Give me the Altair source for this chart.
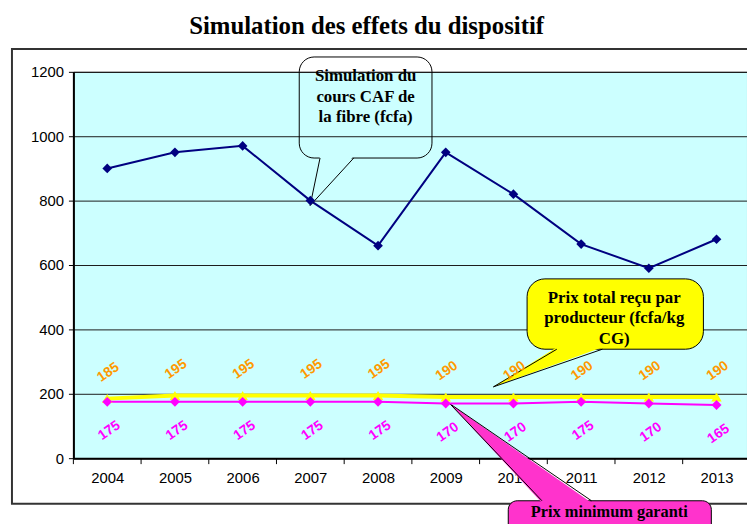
import altair as alt
import pandas as pd

# ---------------- data ----------------
years = [2004, 2005, 2006, 2007, 2008, 2009, 2010, 2011, 2012, 2013]
cours_caf = [900, 950, 970, 800, 660, 950, 820, 665, 590, 680]
prix_total = [185, 195, 195, 195, 195, 190, 190, 190, 190, 190]
prix_minimum = [175, 175, 175, 175, 175, 170, 170, 175, 170, 165]
y_ticks = [0, 200, 400, 600, 800, 1000, 1200]

title_text = "Simulation des effets du dispositif"
caf_label = ["Simulation du", "cours CAF de", "la fibre (fcfa)"]
total_label = ["Prix total reçu par", "producteur (fcfa/kg", "CG)"]
min_label = ["Prix minimum garanti"]

df = pd.DataFrame({"year": years, "caf": cours_caf,
                   "total": prix_total, "minimum": prix_minimum})
bounds_df = pd.DataFrame({"b": [y - 0.5 for y in years]})

# ---------------- layout ----------------
W, H = 680, 390
PAD_L, PAD_T, PAD_B = 66, 62, 64
PAGE = 8
PLOT_LEFT = PAGE + PAD_L          # page x of plot left edge
PLOT_TOP = PAGE + PAD_T           # page y of plot top edge
X0, X1 = 2003.5, 2013.45
PXY = W / (X1 - X0)
YMAX = 1200


def px_x(px):
    return X0 + (px - PLOT_LEFT) / PXY


def px_y(py):
    return (PLOT_TOP + H - py) * YMAX / H


XS = alt.Scale(domain=[X0, X1], nice=False, zero=False)
YS = alt.Scale(domain=[0, YMAX], nice=False, zero=True)
SERIF = "Liberation Serif"
SANS = "Liberation Sans"


def X(f):
    return alt.X(f, type="quantitative", scale=XS, title=None)


def Y(f):
    return alt.Y(f, type="quantitative", scale=YS, title=None)


base = alt.Chart(df)

# first layer carries axes
caf_line = base.mark_line(color="#000080", strokeWidth=2).encode(
    x=alt.X("year:Q", scale=XS, title=None,
            axis=alt.Axis(values=years, format="d", ticks=False,
                          labelFlush=False, labelOverlap=False, labelPadding=13,
                          domainColor="#000000", domainWidth=2, grid=False,
                          labelFont=SANS, labelFontSize=15, labelColor="#000000")),
    y=alt.Y("caf:Q", scale=YS, title=None,
            axis=alt.Axis(values=y_ticks, format="d", tickSize=5, tickColor="#000000",
                          labelPadding=5, domainColor="#000000", domainWidth=2,
                          grid=True, gridColor="#1a1a1a", gridWidth=1,
                          labelFont=SANS, labelFontSize=15, labelColor="#000000")),
)

# category-boundary tick marks below the x axis
x_ticks = alt.Chart(bounds_df).mark_rule(color="#000000", strokeWidth=1).encode(
    x=X("b"), y=alt.value(H), y2=alt.value(H + 6))

# title as text
title_df = pd.DataFrame({"t": [title_text], "x": [px_x(370)], "y": [px_y(32)]})
title = alt.Chart(title_df).mark_text(font=SERIF, fontSize=25, fontWeight="bold",
                                      color="#000000", align="center",
                                      baseline="alphabetic").encode(
    x=X("x"), y=Y("y"), text="t:N")

# outer frame
frame_df = pd.DataFrame({"x": [px_x(12)], "x2": [px_x(900)],
                         "y": [px_y(47)], "y2": [px_y(506)]})
frame = alt.Chart(frame_df).mark_rect(fillOpacity=0, stroke="#333333", strokeWidth=2).encode(
    x=X("x"), x2="x2", y=Y("y"), y2="y2")


def bubble(rect, base_pts, tip, fill, radius, lines, line_y, cx, fsize=17):
    x_a, x_b, y_t, y_b = rect
    r_df = pd.DataFrame({"x": [px_x(x_a)], "x2": [px_x(x_b)],
                         "y": [px_y(y_t)], "y2": [px_y(y_b)]})
    rect_kw = dict(cornerRadius=radius, stroke="#000000", strokeWidth=1)
    if fill is None:
        rect_kw["fillOpacity"] = 0
        fill_c = "#CCFFFF"
    else:
        rect_kw["fill"] = fill
        fill_c = fill
    r = alt.Chart(r_df).mark_rect(**rect_kw).encode(x=X("x"), x2="x2", y=Y("y"), y2="y2")
    (bx1, by), (bx2, _) = base_pts
    tx, ty = tip
    inward = -2 if by < ty else 2
    a_df = pd.DataFrame({"y": [px_y(by + inward), px_y(ty)],
                         "x": [px_x(bx1), px_x(tx)],
                         "x2": [px_x(bx2), px_x(tx)]})
    area = alt.Chart(a_df).mark_area(orient="horizontal", color=fill_c, opacity=1).encode(
        y=Y("y"), x=alt.X("x:Q", scale=XS, title=None, stack=None), x2="x2")
    o_df = pd.DataFrame({"x": [px_x(bx1), px_x(tx), px_x(bx2)],
                         "y": [px_y(by), px_y(ty), px_y(by)],
                         "o": [0, 1, 2]})
    outline = alt.Chart(o_df).mark_line(color="#000000", strokeWidth=1).encode(
        x=X("x"), y=Y("y"), order="o:Q")
    t_df = pd.DataFrame({"t": lines, "x": [px_x(cx)] * len(lines),
                         "y": [px_y(v) for v in line_y]})
    txt = alt.Chart(t_df).mark_text(font=SERIF, fontSize=fsize, fontWeight="bold",
                                    color="#000000", align="center", baseline="middle").encode(
        x=X("x"), y=Y("y"), text="t:N")
    return [r, area, outline, txt]


top_bubble = bubble((302, 436, 55, 157), [(323, 157), (357, 157)], (313, 205),
                    None, 15, caf_label, [74, 95, 116], 369)
yellow_bubble = bubble((532, 710, 279, 350), [(562, 350), (608, 350)], (498, 388),
                       "#FFFF00", 18, total_label, [298, 319, 340], 620)
pink_bubble = bubble((513, 718, 503, 560), [(547, 503), (597, 503)], (454, 405),
                     "#FF33CC", 9, min_label, [514], 615, fsize=16.5)

caf_pts = base.mark_point(shape="diamond", filled=True, size=95, color="#000080", opacity=1).encode(
    x=X("year"), y=Y("caf"))
tot_line = base.mark_line(color="#FFFF00", strokeWidth=4).encode(x=X("year"), y=Y("total"))
tot_pts = base.mark_point(shape="triangle-up", filled=True, size=110, color="#FFFF00", opacity=1).encode(
    x=X("year"), y=Y("total"))
min_line = base.mark_line(color="#FF00FF", strokeWidth=2).encode(x=X("year"), y=Y("minimum"))
min_pts = base.mark_point(shape="diamond", filled=True, size=100, color="#FF00FF", opacity=1).encode(
    x=X("year"), y=Y("minimum"))

tot_lbl = base.mark_text(angle=325, dx=16, dy=-21, font=SANS, fontSize=14, fontWeight="bold",
                         color="#FF9900", align="center", baseline="middle").encode(
    x=X("year"), y=Y("total"), text="total:Q")
min_lbl = base.mark_text(angle=325, dx=-15, dy=25, font=SANS, fontSize=14, fontWeight="bold",
                         color="#FF00FF", align="center", baseline="middle").encode(
    x=X("year"), y=Y("minimum"), text="minimum:Q")

layers = [caf_line, x_ticks, frame, title] + top_bubble + yellow_bubble + pink_bubble + \
    [tot_line, min_line, caf_pts, tot_pts, min_pts, tot_lbl, min_lbl]

chart = alt.layer(*layers).properties(
    width=W, height=H,
    autosize=alt.AutoSizeParams(type="none"),
    padding={"left": PAD_L, "top": PAD_T, "right": 0, "bottom": PAD_B},
).configure_view(fill="#CCFFFF", stroke="#000000", strokeWidth=1)

chart.save("out.html", embed_options={"renderer": "svg", "actions": False})
